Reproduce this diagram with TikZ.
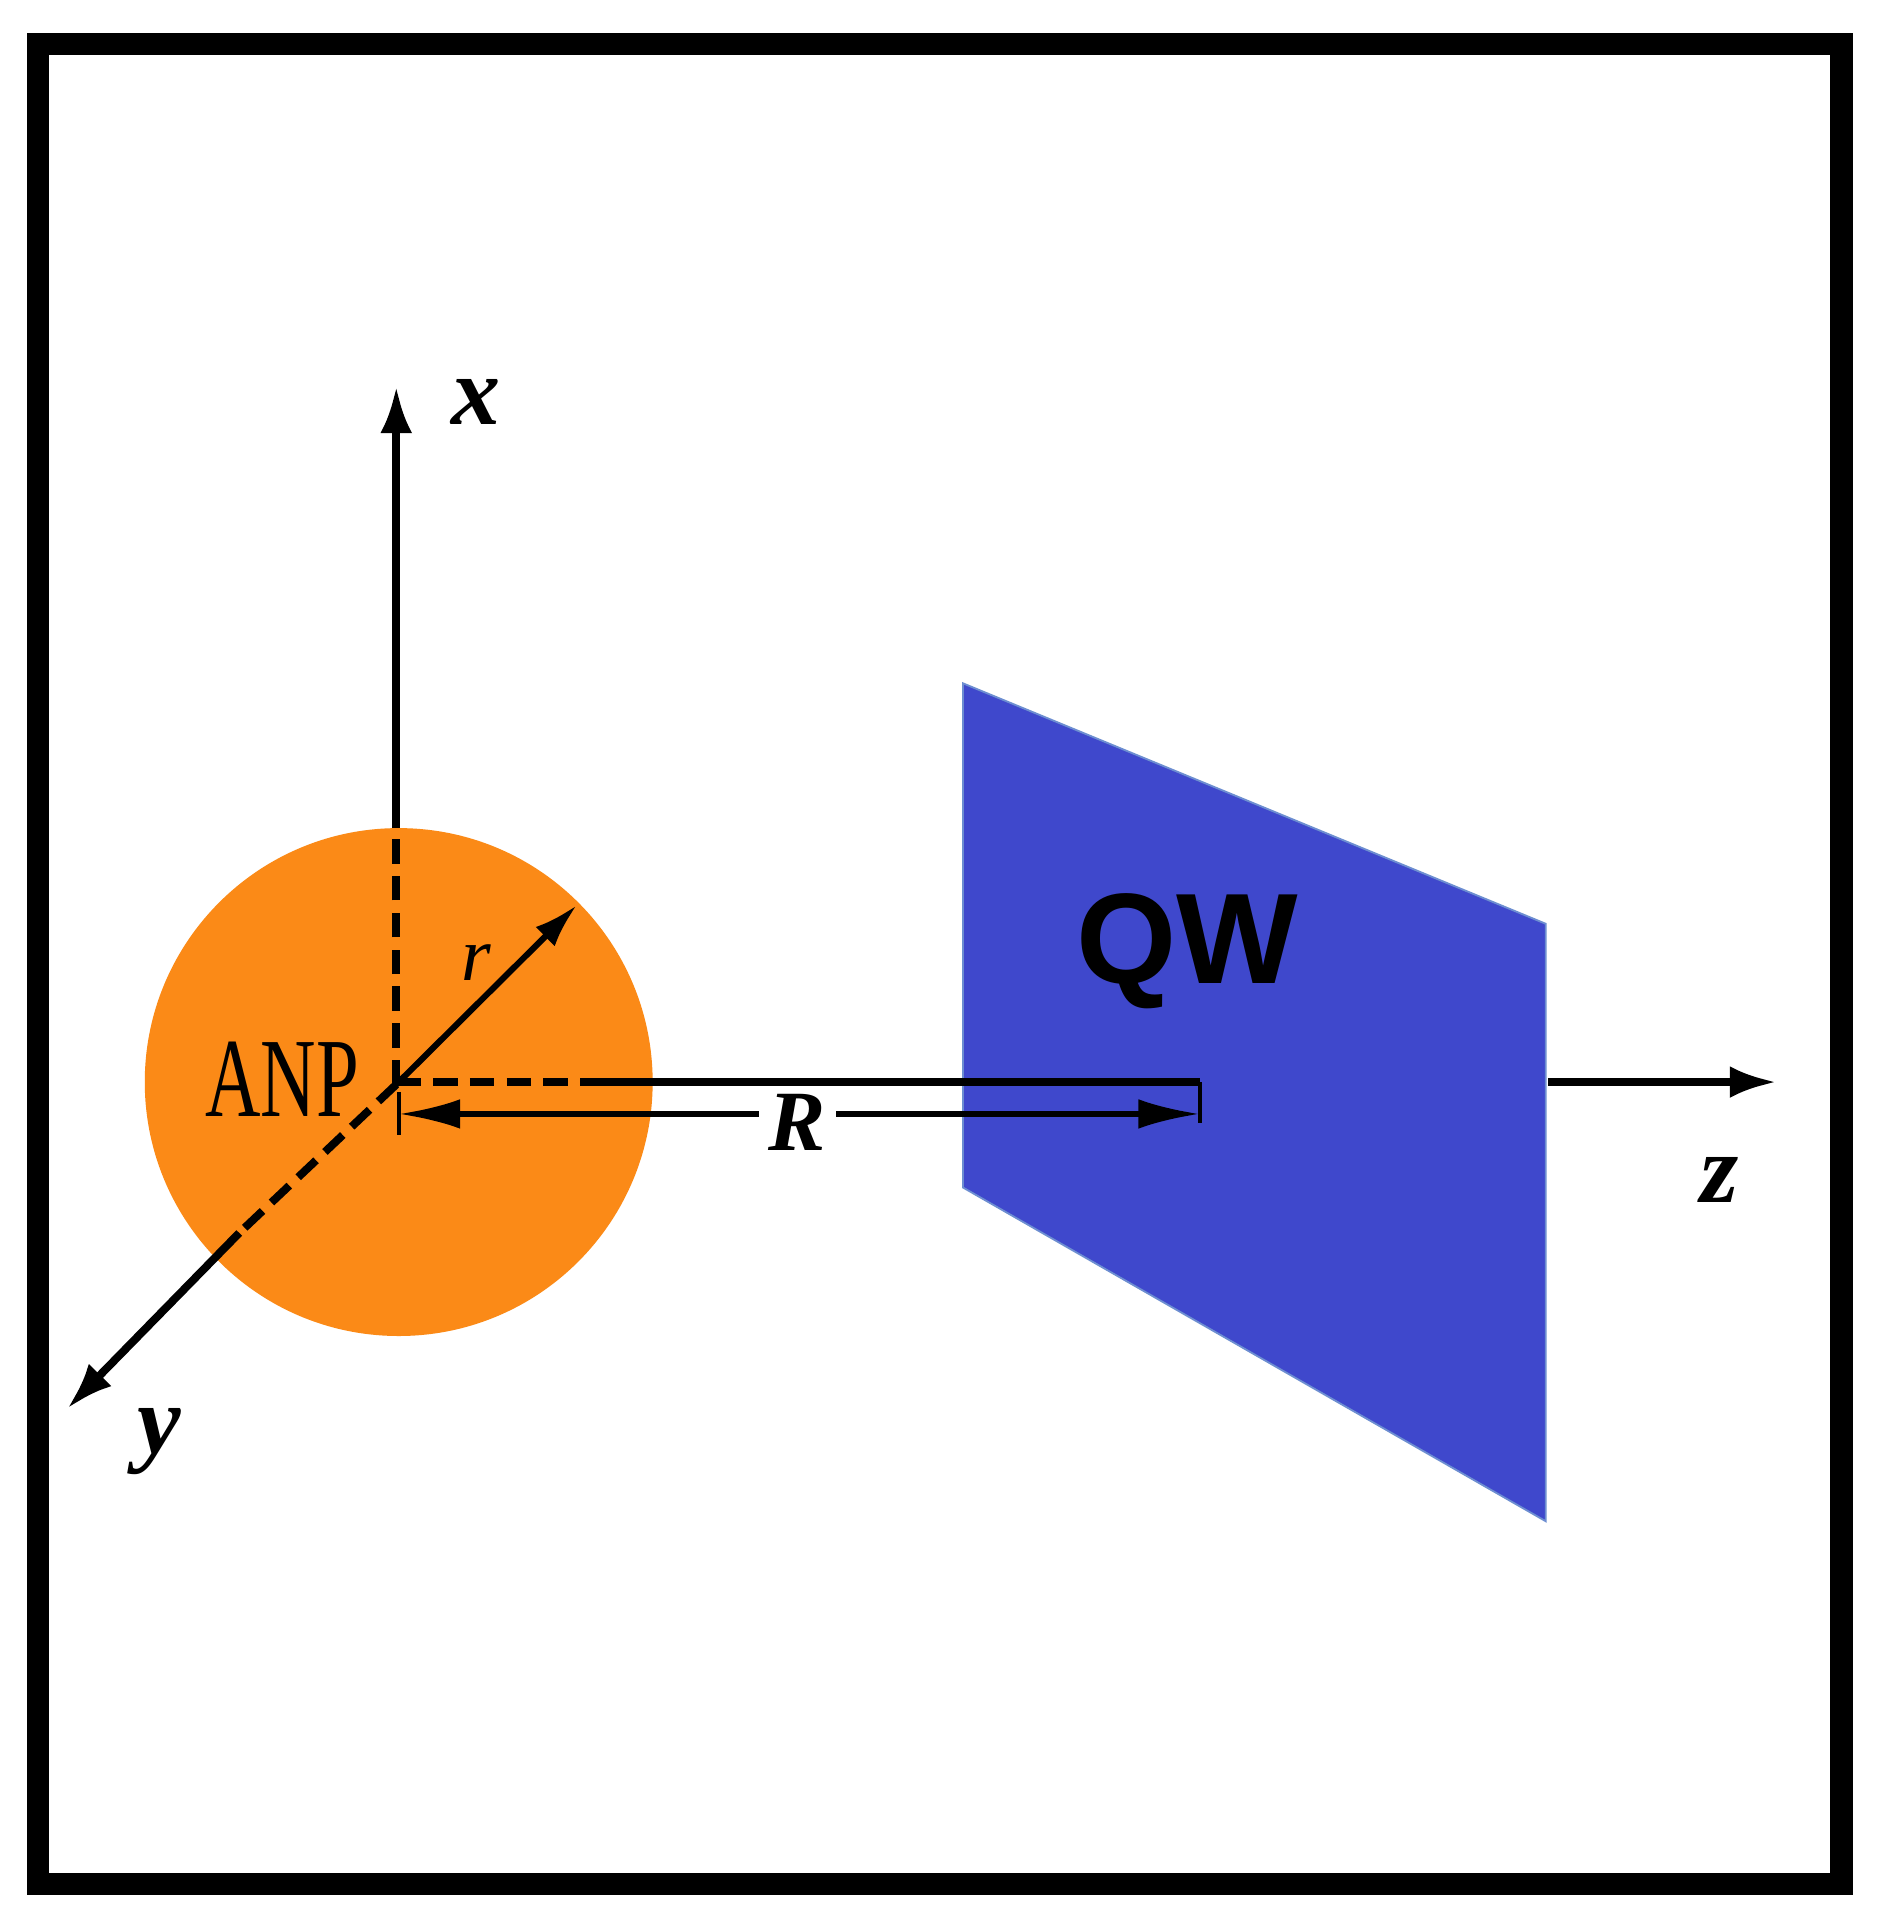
\documentclass[tikz,border=0pt]{standalone}
\usepackage{fontspec}
\setmainfont{Liberation Serif}
\newfontfamily\sansf{Liberation Sans}
\usetikzlibrary{arrows.meta}
\definecolor{anp}{HTML}{FB8A17}
\definecolor{qw}{HTML}{3F48CC}
\begin{document}
\begin{tikzpicture}[x=1pt,y=-1pt,
  ax/.style={line width=6.5pt,-{Latex[length=38pt,width=26pt]}},
  dsh/.style={line width=6.5pt,dash pattern=on 20pt off 10pt},
  lab/.style={font=\fontsize{80}{80}\selectfont\bfseries\itshape,inner sep=0pt}]
\useasboundingbox (0,0) rectangle (1536,1574);
\fill[white] (0,0) rectangle (1536,1574);
\draw[line width=18pt] (31,36) rectangle (1501,1536);
% sphere
\fill[anp] (325,882) circle (207);
% QW plate
\fill[qw,draw=cyan!40!blue!60,line width=1.5pt] (785,557) -- (1260,753) -- (1260,1240) -- (785,968) -- cycle;
\node[font=\fontsize{105}{105}\selectfont\sansf\bfseries,inner sep=0pt] (qwl) at (968,775) {QW};
% coordinates
\coordinate (o) at (323,884);
\coordinate (xs) at (323,675);
\coordinate (xe) at (323,315);
\coordinate (ys) at (195,1005);
\coordinate (ye) at (55,1148);
\coordinate (re) at (470,738);
\coordinate (hs) at (490,882);
\coordinate (he) at (978,882);
\coordinate (ze0) at (1262,882);
\coordinate (ze) at (1448,882);
\coordinate (Rs) at (325,908);
\coordinate (Re) at (978,908);
% x axis
\draw[dsh] (o) -- (xs);
\draw[ax] (xs) -- (xe);
\node[lab] (xl) at (388,328) {x};
% y axis
\draw[dsh] (o) -- (ys);
\draw[ax] (ys) -- (ye);
\node[lab] (yl) at (130,1175) {y};
% r
\draw[line width=5pt,-{Latex[length=36pt,width=22pt]}] (o) -- (re);
\node[font=\fontsize{62}{62}\selectfont\itshape,inner sep=0pt] (rl) at (388,785) {r};
% horizontal line to QW
\draw[dsh] (o |- hs) -- (hs);
\draw[line width=6.5pt] (hs) -- (he);
\draw[line width=3pt] (he) -- ++(0,33);
\draw[line width=3pt] (325,890) -- (325,925);
% R arrow
\draw[line width=4.5pt,{Latex[length=50pt,width=24pt]}-{Latex[length=50pt,width=24pt]}] (Rs) -- (Re);
\node[lab,fill=white,inner xsep=8pt,inner ysep=2pt,font=\fontsize{70}{70}\selectfont\bfseries\itshape] (Rl) at (650,915) {R};
% z axis
\draw[ax] (ze0) -- (ze);
\node[lab] (zl) at (1402,962) {z};
% ANP
\node[font=\fontsize{92}{92}\selectfont,inner sep=0pt,xscale=0.68] (anpl) at (230,880) {ANP};
\end{tikzpicture}
\end{document}
